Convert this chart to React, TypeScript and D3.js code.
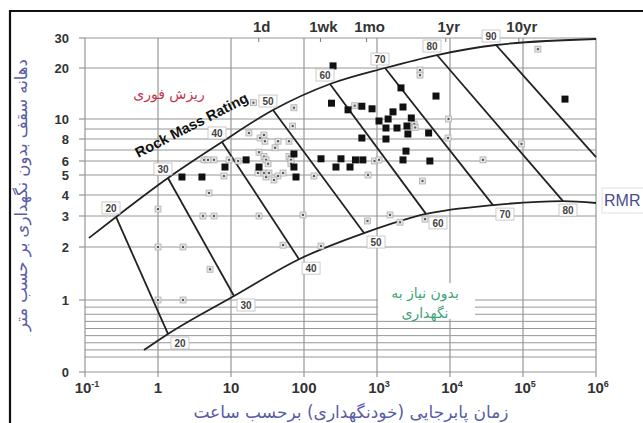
import React from "react";
import * as d3 from "d3";

// ---------- data ----------
const yTickValues = [0, 1, 2, 3, 4, 5, 6, 8, 10, 20, 30];
const yGridValues = [30, 20, 10, 9, 8, 7, 6, 5, 4, 3, 2, 1, 0.9, 0.8, 0.7, 0.6, 0.5, 0.4, 0.3, 0.2];
const xTickValues = [0.1, 1, 10, 100, 1000, 1e4, 1e5, 1e6];
const xTickBases = ["10", "1", "10", "100", "10", "10", "10", "10"];
const xTickSups = ["-1", "", "", "", "3", "4", "5", "6"];
const topTickHours = [24, 168, 720, 8760, 87600];
const topTickLabels = ["1d", "1wk", "1mo", "1yr", "10yr"];

// RMR lines: [hours, span m] at upper envelope and lower envelope
const rmrValues = [20, 30, 40, 50, 60, 70, 80, 90];
const rmrTop: [number, number][] = [
  [0.266, 2.97], [1.37, 4.85], [7.53, 7.73], [37.6, 11.76],
  [227, 16.86], [1288, 20], [6640, 24.33], [42700, 27.67],
];
const rmrBottom: [number, number][] = [
  [1.37, 0.523], [11.0, 1.075], [85.5, 1.77], [664, 2.45],
  [4690, 3.1], [38800, 3.52], [353000, 3.71], [1e6, 6.36],
];
const upperStart: [number, number] = [0.113, 2.29];
const upperEnd: [number, number] = [1e6, 29.67];
const lowerStart: [number, number] = [0.643, 0.298];
const lowerEnd: [number, number] = [1e6, 3.62];

// case histories: filled = collapse, boxed = stable
const filledPoints: [number, number][] = [
  [2.13, 4.9], [4.0, 4.9], [8.27, 5.57], [16.1, 6.1], [24.2, 5.57], [72.8, 6.64], [72.8, 5.57],
  [77.7, 4.9], [250, 20.7], [238, 13.1], [401, 11.8], [620, 12.5], [855, 12.0], [620, 8.1],
  [171, 6.2], [274, 5.57], [321, 6.2], [427, 5.57], [507, 6.1], [640, 6.1], [2131, 16.1],
  [1656, 11.4], [2270, 12.35], [1065, 9.8], [1420, 10.0], [1327, 9.1], [1879, 9.1], [2950, 10.2],
  [2575, 9.3], [2650, 8.5], [1327, 8.0], [2495, 6.9], [2270, 6.1], [5100, 8.6], [5300, 6.0],
  [6430, 14.5], [376000, 13.9],
];
const boxedPoints: [number, number][] = [
  [20.3, 13.2], [72.8, 12.2], [70, 9.3], [17.6, 8.6], [25, 8.1], [28.3, 8.4], [29.2, 7.8],
  [44.1, 7.8], [62.3, 7.8], [40.1, 7.2], [24.2, 6.8], [4.27, 6.1], [4.84, 6.1], [5.85, 6.1],
  [9.4, 6.1], [12.5, 6.0], [28.3, 6.4], [30.2, 6.1], [32.2, 5.8], [62.3, 6.4], [66.3, 6.1],
  [66.3, 5.8], [8.0, 4.95], [23.4, 5.14], [28.3, 5.14], [30.2, 4.9], [33.1, 5.14], [44, 4.95],
  [51.6, 5.14], [38.8, 4.75], [137, 4.95], [925, 6.0], [1065, 6.1], [754, 5.0], [5.0, 4.1],
  [495, 12.6], [3880, 19.6], [3880, 18.6], [9550, 10], [9400, 8.1], [4200, 4.7], [3236, 9.5],
  [3336, 9.15], [160000, 26.3], [95300, 7.55], [28300, 6.1], [1.0, 3.33], [4.13, 3.0],
  [5.85, 3.0], [24.2, 3.0], [96.9, 3.05], [1.0, 2.0], [2.2, 2.0], [51.6, 2.06], [171, 2.03],
  [5.16, 1.58], [1.0, 1.0], [2.2, 1.0], [741, 2.84], [1506, 3.05], [2065, 2.8], [4550, 2.9],
];

const yTitle = "دهانه سقف بدون نگهداری بر حسب متر";
const xTitle = "زمان پابرجایی (خودنگهداری) برحسب ساعت";
const collapseLabel = "ریزش فوری";
const noSupportLine1 = "بدون نیاز به";
const noSupportLine2 = "نگهداری";

// ---------- chart ----------
const LAT = "'Liberation Sans', Arial, sans-serif";
const FA = "'DejaVu Sans', sans-serif";
const GRID = "#969696";
const TITLE_COLOR = "#5a5ca6";

export default function App() {
  const x = d3.scaleLog().domain([0.1, 1e6]).range([85, 596]);
  const y = d3
    .scaleLinear()
    .domain([0, 0.2, 1, 2, 3, 4, 5, 6, 8, 10, 20, 30])
    .range([372, 357, 300, 247, 216, 195, 175, 161, 139, 119, 68, 38]);
  const [x0, x1] = x.range();
  const yTop = y(30);
  const yBot = y(0);

  const line = d3
    .line<[number, number]>()
    .x((d) => x(d[0]))
    .y((d) => y(d[1]))
    .curve(d3.curveMonotoneX);

  const upperCurve: [number, number][] = [upperStart, ...rmrTop, upperEnd];
  const lowerCurve: [number, number][] = [lowerStart, ...rmrBottom.slice(0, 7), lowerEnd];

  const labelBox = (cx: number, cy: number, txt: string, key: string) => (
    <g key={key}>
      <rect x={cx - 9} y={cy - 6} width={18} height={12} fill="#fff" stroke="#bdbdbd" strokeWidth={0.8} />
      <text x={cx} y={cy + 3.6} textAnchor="middle" fontFamily={LAT} fontWeight="bold" fontSize={10} fill="#444">
        {txt}
      </text>
    </g>
  );

  return (
    <svg width={643} height={423} style={{ position: "absolute", left: 0, top: 0, background: "#fff" }}>
      <rect x={0} y={0} width={643} height={423} fill="#fff" />
      {/* outer frame */}
      <path d={`M10,423 V11 H643`} fill="none" stroke="#111" strokeWidth={2.2} />

      {/* horizontal grid */}
      {yGridValues.map((v) => (
        <line key={"hg" + v} x1={x0} x2={x1} y1={y(v)} y2={y(v)} stroke={GRID} strokeWidth={1} />
      ))}
      <line x1={x0} x2={x1} y1={yBot} y2={yBot} stroke={GRID} strokeWidth={1.2} />
      {/* vertical grid */}
      {xTickValues.map((v) => (
        <line key={"vg" + v} x1={x(v)} x2={x(v)} y1={yTop} y2={yBot + 5} stroke={GRID} strokeWidth={1.2} />
      ))}
      {/* y ticks */}
      {yTickValues.map((v) => (
        <g key={"yt" + v}>
          <line x1={x0 - 6} x2={x0} y1={y(v)} y2={y(v)} stroke={GRID} strokeWidth={1.2} />
          <text x={69} y={y(v) + 4.5} textAnchor="end" fontFamily={LAT} fontWeight="bold" fontSize={13} fill="#333">
            {v}
          </text>
        </g>
      ))}
      {/* x tick labels */}
      {xTickValues.map((v, i) => (
        <text key={"xt" + v} x={x(v) + (xTickSups[i] ? 2 : 0)} y={393} textAnchor="middle" fontFamily={LAT} fontWeight="bold" fontSize={15} fill="#333">
          {xTickBases[i]}
          {xTickSups[i] ? (
            <tspan dy={-6} fontSize={9}>
              {xTickSups[i]}
            </tspan>
          ) : null}
        </text>
      ))}
      {/* top time ticks */}
      {topTickHours.map((h, i) => (
        <g key={"tt" + h}>
          <line x1={x(h)} x2={x(h)} y1={yTop} y2={yTop + 4} stroke="#777" strokeWidth={1} />
          <text x={x(h) + 3} y={32} textAnchor="middle" fontFamily={LAT} fontWeight="bold" fontSize={15} fill="#333">
            {topTickLabels[i]}
          </text>
        </g>
      ))}

      {/* white box behind green text */}
      <rect x={378} y={283} width={97} height={36} fill="#fff" />

      {/* envelopes */}
      <path d={line(upperCurve) || ""} fill="none" stroke="#222" strokeWidth={1.8} />
      <path d={line(lowerCurve) || ""} fill="none" stroke="#222" strokeWidth={1.8} />
      {/* RMR lines */}
      {rmrValues.map((r, i) => (
        <line
          key={"rl" + r}
          x1={x(rmrTop[i][0])}
          y1={y(rmrTop[i][1])}
          x2={x(rmrBottom[i][0])}
          y2={y(rmrBottom[i][1])}
          stroke="#222"
          strokeWidth={1.8}
        />
      ))}

      {/* data points */}
      {boxedPoints.map((p, i) => (
        <g key={"bp" + i}>
          <rect x={x(p[0]) - 3} y={y(p[1]) - 3} width={6} height={6} fill="#e2e2e2" stroke="#a8a8a8" strokeWidth={0.7} />
          <rect x={x(p[0]) - 1} y={y(p[1]) - 1} width={2} height={2} fill="#555" />
        </g>
      ))}
      {filledPoints.map((p, i) => (
        <rect key={"fp" + i} x={x(p[0]) - 3.5} y={y(p[1]) - 3.5} width={7} height={7} fill="#111" />
      ))}

      {/* RMR labels */}
      {rmrValues.map((r, i) => labelBox(x(rmrTop[i][0]) - 5, y(rmrTop[i][1]) - 9, String(r), "ut" + r))}
      {rmrValues.slice(0, 7).map((r, i) =>
        labelBox(x(rmrBottom[i][0]) + (i === 6 ? 5 : 12), y(rmrBottom[i][1]) + 9, String(r), "lb" + r)
      )}

      {/* annotations */}
      <text
        x={0}
        y={0}
        transform="translate(192,126) rotate(-27)"
        textAnchor="middle"
        fontFamily={LAT}
        fontWeight="bold"
        fontSize={14.5}
        fill="#111"
        dy={4}
      >
        Rock Mass Rating
      </text>
      <text x={169} y={99} textAnchor="middle" fontFamily={FA} fontSize={14} fill="#c4364f" direction="rtl">
        {collapseLabel}
      </text>
      <text x={425} y={298} textAnchor="middle" fontFamily={FA} fontSize={14} fill="#3da57a" direction="rtl">
        {noSupportLine1}
      </text>
      <text x={425} y={318} textAnchor="middle" fontFamily={FA} fontSize={14} fill="#3da57a" direction="rtl">
        {noSupportLine2}
      </text>
      <rect x={602} y={188} width={50} height={25} fill="#fff" stroke="#e0e0e0" strokeWidth={1} />
      <text x={604} y={206} fontFamily={LAT} fontSize={16} fill="#4b4b8f">
        RMR
      </text>

      {/* axis titles */}
      <text
        transform="translate(27,195) rotate(-90)"
        textAnchor="middle"
        fontFamily={FA}
        fontSize={16.5}
        fill={TITLE_COLOR}
        direction="rtl"
      >
        {yTitle}
      </text>
      <text x={351} y={418} textAnchor="middle" fontFamily={FA} fontSize={17} fill={TITLE_COLOR} direction="rtl">
        {xTitle}
      </text>
    </svg>
  );
}
